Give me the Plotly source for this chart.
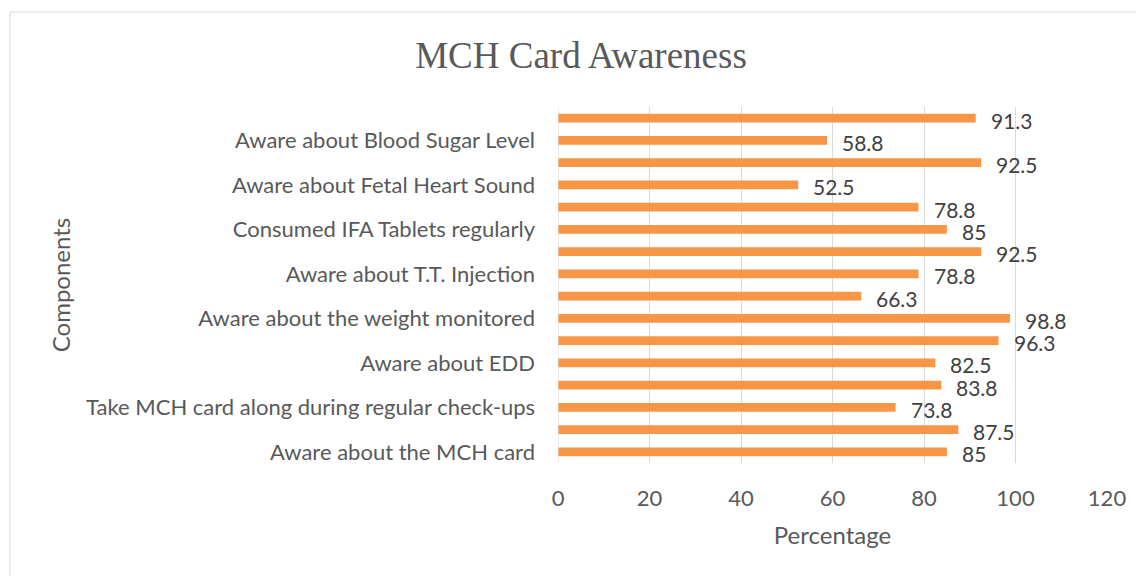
import plotly.graph_objects as go

# Categories bottom-to-top (Excel shows only every other label; hidden ones left blank)
categories = [
    "Aware about the MCH card", "",
    "Take MCH card along during regular check-ups", "",
    "Aware about EDD", "",
    "Aware about the weight monitored", "",
    "Aware about T.T. Injection", "",
    "Consumed IFA Tablets regularly", "",
    "Aware about Fetal Heart Sound", "",
    "Aware about Blood Sugar Level", "",
]
values = [85, 87.5, 73.8, 83.8, 82.5, 96.3, 98.8, 66.3,
          78.8, 92.5, 85, 78.8, 52.5, 92.5, 58.8, 91.3]
x_ticks = [0, 20, 40, 60, 80, 100, 120]

positions = list(range(len(values)))
BAR = "#F79646"
TXT = "#595959"
FONT = "Lato"

L, R, T, B = 550, 45, 99, 121
W, H = 1144, 576
PW, PH = W - L - R, H - T - B

fig = go.Figure()
fig.add_trace(go.Bar(
    x=values, y=positions, orientation="h",
    marker=dict(color=BAR, line=dict(width=0)),
    width=0.4, hoverinfo="x",
))

for p, v in zip(positions, values):
    fig.add_annotation(
        x=v, y=p, xref="x", yref="y",
        text=f"{v:g}", showarrow=False,
        xanchor="left", yanchor="middle",
        xshift=13, yshift=-2,
        font=dict(family=FONT, size=21, color="#404040"),
    )

fig.update_layout(
    width=W, height=H,
    paper_bgcolor="white", plot_bgcolor="white",
    margin=dict(l=L, r=R, t=T, b=B),
    showlegend=False,
    title=dict(
        text="MCH Card Awareness",
        font=dict(family="Liberation Serif", size=37, color=TXT),
        x=573 / W, xanchor="center", xref="container",
        y=1 - 47 / H, yanchor="middle", yref="container",
    ),
    xaxis=dict(
        range=[0, 120], tickvals=x_ticks, ticktext=[str(t) for t in x_ticks],
        showgrid=True, gridcolor="#D9D9D9", gridwidth=1,
        zeroline=False, showline=False, ticks="",
        ticklabelstandoff=20,
        tickfont=dict(family=FONT, size=22, color=TXT),
        title=dict(text="Percentage", font=dict(family=FONT, size=24, color=TXT), standoff=17),
        automargin=False,
    ),
    yaxis=dict(
        range=[-0.5, 15.5], tickvals=positions, ticktext=categories,
        showgrid=False, zeroline=False, showline=False, ticks="",
        ticklabelstandoff=22,
        tickfont=dict(family=FONT, size=22, color=TXT),
        title=dict(text="Components", font=dict(family=FONT, size=24, color=TXT), standoff=8),
        automargin=False,
    ),
)

# vertical axis line at 0
fig.add_shape(type="line", xref="x", yref="paper", x0=0, x1=0, y0=0, y1=1,
              line=dict(color="#D9D9D9", width=1))
# chart outer border (Excel chart area)
fig.add_shape(type="rect", xref="paper", yref="paper",
              x0=(2 - L) / PW, x1=(W + 20 - L) / PW,
              y0=(T + PH - (H + 20)) / PH, y1=(T + PH - 4) / PH,
              line=dict(color="#D9D9D9", width=1), layer="below")

fig.write_html("out.html")
